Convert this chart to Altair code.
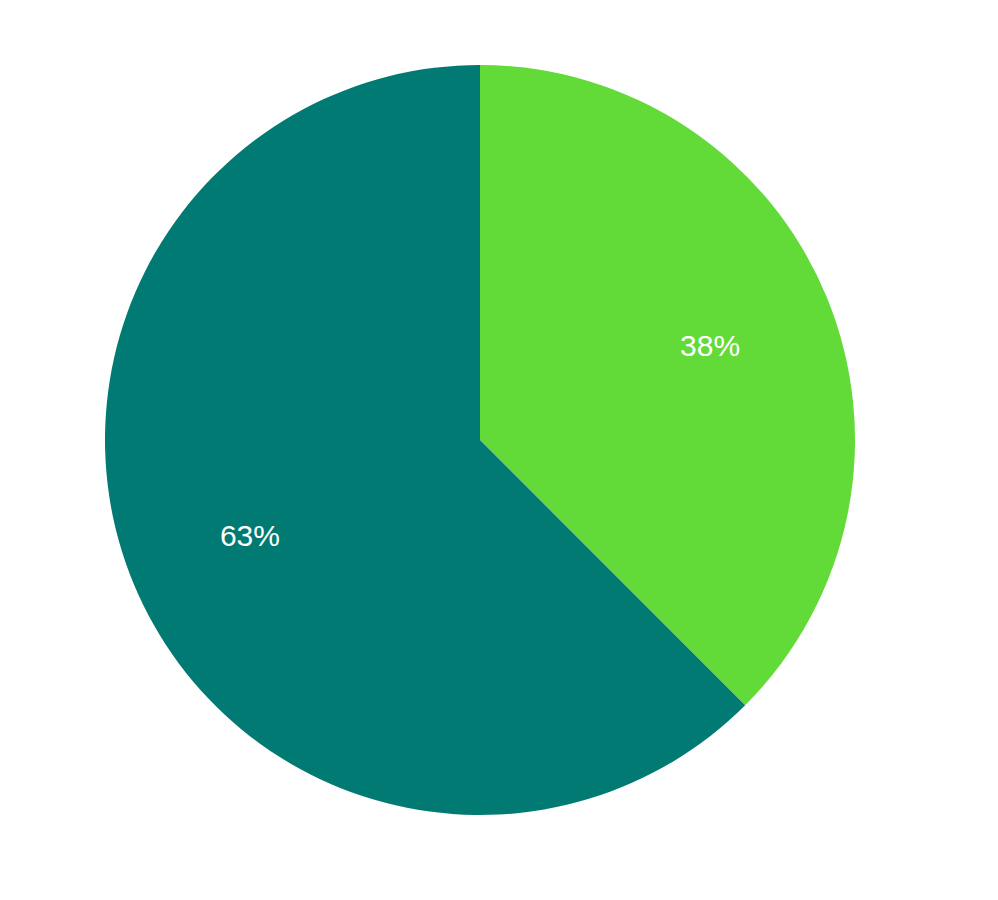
import altair as alt
import pandas as pd

categories = ["A", "B"]
values = [37.5, 62.5]
labels = ["38%", "63%"]
colors = ["#62DA37", "#007A72"]

df = pd.DataFrame({"category": categories, "value": values, "label": labels})

base = alt.Chart(df).encode(
    theta=alt.Theta("value:Q", stack=True),
    order=alt.Order("category:N"),
)

pie = base.mark_arc(outerRadius=375, stroke=None).encode(
    color=alt.Color("category:N", scale=alt.Scale(domain=categories, range=colors), legend=None)
)

text = base.mark_text(radius=249, fontSize=30, font="Liberation Sans", color="white", dy=2).encode(
    text="label:N"
)

chart = (pie + text).properties(width=934, height=854).configure_view(stroke=None)

chart.save("out.html", embed_options={"renderer": "svg", "actions": False})
